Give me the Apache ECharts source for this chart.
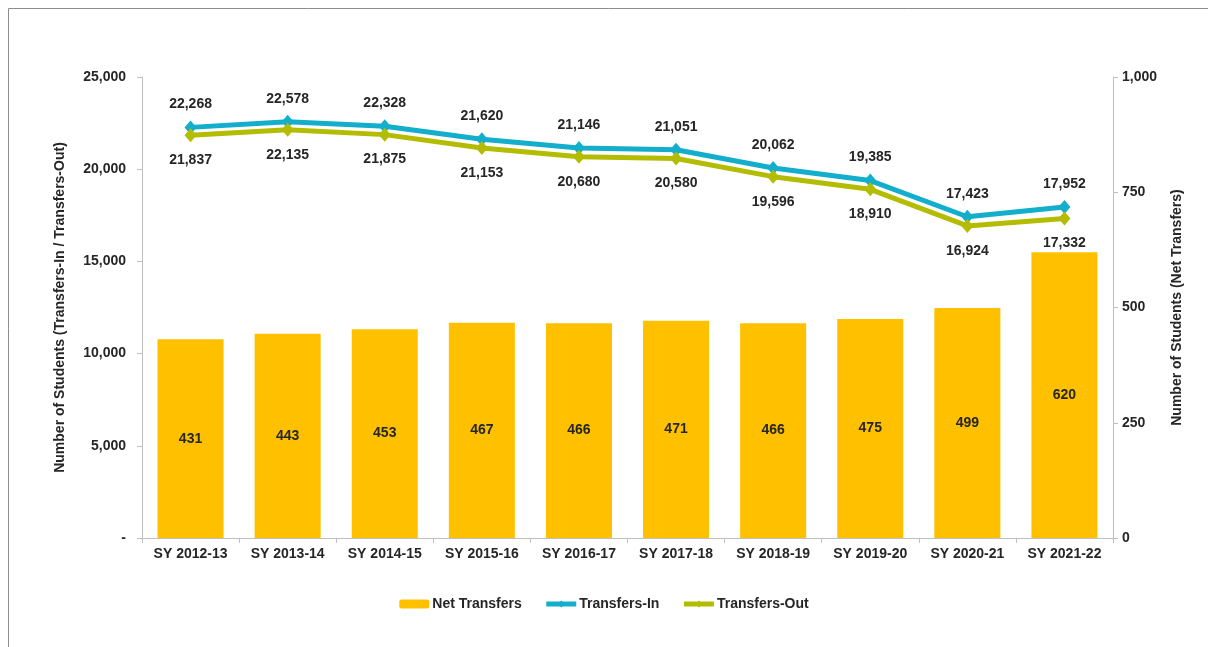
<!DOCTYPE html>
<html>
<head>
<meta charset="utf-8">
<script src="https://cdn.jsdelivr.net/npm/echarts@6/dist/echarts.min.js"></script>
<style>
html, body { margin: 0; padding: 0; background: #fff; }
#chart { width: 1208px; height: 647px; }
</style>
</head>
<body>
<div id="chart"></div>
<script>
// 데이터
var categories = ['SY 2012-13', 'SY 2013-14', 'SY 2014-15', 'SY 2015-16', 'SY 2016-17',
	'SY 2017-18', 'SY 2018-19', 'SY 2019-20', 'SY 2020-21', 'SY 2021-22'];
var netTransfers = [431, 443, 453, 467, 466, 471, 466, 475, 499, 620];
var transfersIn = [22268, 22578, 22328, 21620, 21146, 21051, 20062, 19385, 17423, 17952];
var transfersOut = [21837, 22135, 21875, 21153, 20680, 20580, 19596, 18910, 16924, 17332];
var leftTicks = [0, 5000, 10000, 15000, 20000, 25000];
var rightTicks = [0, 250, 500, 750, 1000];

var font = 'Liberation Sans, Arial, sans-serif';
var txt = '#262626';
var fs = 14;

function fmt(v) {
	return v.toString().replace(/\B(?=(\d{3})+(?!\d))/g, ',');
}

var chart = echarts.init(document.getElementById('chart'));

var option = {
	animation: false,
	textStyle: { fontFamily: font },
	graphic: [{
		type: 'rect',
		shape: { x: 8.5, y: 8.5, width: 1300, height: 700 },
		style: { fill: 'none', stroke: '#8c8c8c', lineWidth: 1 },
		silent: true
	}],
	grid: { left: 142, right: 95, top: 77, bottom: 109 },
	legend: {
		bottom: 31,
		left: 'center',
		itemWidth: 30,
		itemHeight: 9,
		itemGap: 22,
		lineStyle: { width: 5 },
		textStyle: { fontFamily: font, fontWeight: 'bold', fontSize: fs, color: txt, padding: [0, 0, 0, -2] },
		data: ['Net Transfers', 'Transfers-In', 'Transfers-Out']
	},
	xAxis: {
		type: 'category',
		data: categories,
		axisLine: { lineStyle: { color: '#bfbfbf', width: 1 } },
		axisTick: { show: true, length: 5, lineStyle: { color: '#bfbfbf' } },
		axisLabel: { interval: 0, fontFamily: font, fontWeight: 'bold', fontSize: fs, color: txt, margin: 9 }
	},
	yAxis: [{
		type: 'value',
		min: leftTicks[0],
		max: leftTicks[leftTicks.length - 1],
		interval: 5000,
		name: 'Number of Students (Transfers-In / Transfers-Out)',
		nameLocation: 'middle',
		nameGap: 75,
		nameTextStyle: { fontFamily: font, fontWeight: 'bold', fontSize: fs, color: txt },
		axisLine: { show: true, lineStyle: { color: '#bfbfbf' } },
		axisTick: { show: true, length: 5, lineStyle: { color: '#bfbfbf' } },
		splitLine: { show: false },
		axisLabel: {
			fontFamily: font, fontWeight: 'bold', fontSize: fs, color: txt, margin: 16,
			formatter: function (v) { return v === 0 ? '-' : fmt(v); }
		}
	}, {
		type: 'value',
		min: rightTicks[0],
		max: rightTicks[rightTicks.length - 1],
		interval: 250,
		position: 'right',
		name: 'Number of Students (Net Transfers)',
		nameLocation: 'middle',
		nameGap: 57,
		nameTextStyle: { fontFamily: font, fontWeight: 'bold', fontSize: fs, color: txt },
		axisLine: { show: true, lineStyle: { color: '#bfbfbf' } },
		axisTick: { show: true, length: 5, lineStyle: { color: '#bfbfbf' } },
		splitLine: { show: false },
		axisLabel: {
			fontFamily: font, fontWeight: 'bold', fontSize: fs, color: txt, margin: 9,
			formatter: function (v) { return fmt(v); }
		}
	}],
	series: [{
		name: 'Net Transfers',
		type: 'bar',
		yAxisIndex: 1,
		barWidth: '68%',
		itemStyle: { color: '#FFC000' },
		label: {
			show: true, position: 'inside',
			fontFamily: font, fontWeight: 'bold', fontSize: fs, color: txt
		},
		data: netTransfers
	}, {
		name: 'Transfers-In',
		type: 'line',
		yAxisIndex: 0,
		symbol: 'diamond',
		symbolSize: [12, 14],
		lineStyle: { color: '#12AECB', width: 5 },
		itemStyle: { color: '#12AECB' },
		label: {
			show: true, position: 'top', distance: 9,
			fontFamily: font, fontWeight: 'bold', fontSize: fs, color: txt,
			formatter: function (p) { return fmt(p.value); }
		},
		data: transfersIn
	}, {
		name: 'Transfers-Out',
		type: 'line',
		yAxisIndex: 0,
		symbol: 'diamond',
		symbolSize: [12, 14],
		lineStyle: { color: '#B4BC00', width: 5 },
		itemStyle: { color: '#B4BC00' },
		label: {
			show: true, position: 'bottom', distance: 11,
			fontFamily: font, fontWeight: 'bold', fontSize: fs, color: txt,
			formatter: function (p) { return fmt(p.value); }
		},
		data: transfersOut
	}]
};

chart.setOption(option);
</script>
</body>
</html>
